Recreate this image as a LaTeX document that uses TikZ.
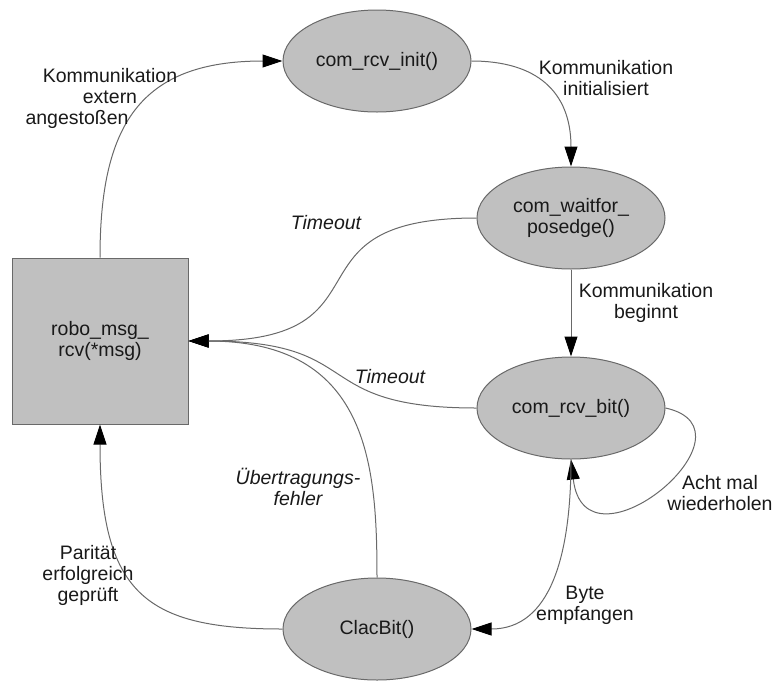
\documentclass[tikz,border=0pt]{standalone}
\usepackage{fontspec}
\setmainfont{Liberation Sans}
\usetikzlibrary{arrows.meta,shapes.geometric}
\definecolor{statefill}{RGB}{192,192,192}
\definecolor{lineclr}{RGB}{105,105,105}
\definecolor{txtclr}{RGB}{25,25,25}

\begin{document}
\begin{tikzpicture}[x=0.5pt,y=-0.5pt,
  font=\fontsize{9.75}{10.5}\selectfont, text=txtclr,
  state/.style={ellipse,draw=lineclr,fill=statefill,line width=0.5pt,minimum width=94pt,minimum height=51pt,inner sep=0pt,align=center},
  box/.style={rectangle,draw=lineclr,fill=statefill,line width=0.5pt,minimum width=88pt,minimum height=83pt,inner sep=0pt,align=center},
  trans/.style={draw=lineclr,line width=0.5pt,-{Triangle[length=10pt,width=6.5pt,color=black]}},
  lbl/.style={align=center,inner sep=0pt}]
\useasboundingbox (0,0) rectangle (777,681);

\node[state] (I) at (377,61)  {com\_rcv\_init()};
\node[state] (W) at (571,218) {com\_waitfor\_\\posedge()};
\node[state] (B) at (571,408) {com\_rcv\_bit()};
\node[state] (C) at (377,629) {ClacBit()};
\node[box]   (R) at (100,341) {robo\_msg\_\\rcv(*msg)};

\draw[trans] (R.north) .. controls +(0,-132) and +(-143,0) .. (I.west);
\draw[trans] (I.east) .. controls +(65,0) and +(0,-75) .. (W.north);
\draw[trans] (W.west) .. controls +(-200,0) and +(210,0) .. (R.east);
\draw[trans] (W.south) -- (B.north);
\draw[trans] (B.west) .. controls +(-170,0) and +(180,0) .. (R.east);
\draw[trans] (B.east) .. controls +(100,22) and +(14,121) .. (B.south);
\draw[trans] (C.north) .. controls +(0,-113) and +(180,0) .. (R.east);
\draw[trans] (C.west) .. controls +(-137,0) and +(0,169) .. (R.south);
\draw[trans] (B.south) .. controls +(0,96) and +(79,0) .. (C.east);

\node[lbl] (l1) at (110,98)  {Kommunikation\\extern\\angesto\ss en\hspace*{33pt}};
\node[lbl] (l2) at (606,78)  {Kommunikation\\initialisiert};
\node[lbl] (l3) at (326,223) {\itshape Timeout};
\node[lbl] (l4) at (646,303) {Kommunikation\\beginnt};
\node[lbl] (l5) at (390,377) {\itshape Timeout};
\node[lbl] (l6) at (720,493) {Acht mal\\wiederholen};
\node[lbl] (l7) at (298,487) {\itshape Übertragungs-\\\itshape fehler};
\node[lbl] (l8) at (88,575)  {Parität\\erfolgreich\\geprüft};
\node[lbl] (l9) at (585,605) {Byte\\empfangen};
\end{tikzpicture}
\end{document}
